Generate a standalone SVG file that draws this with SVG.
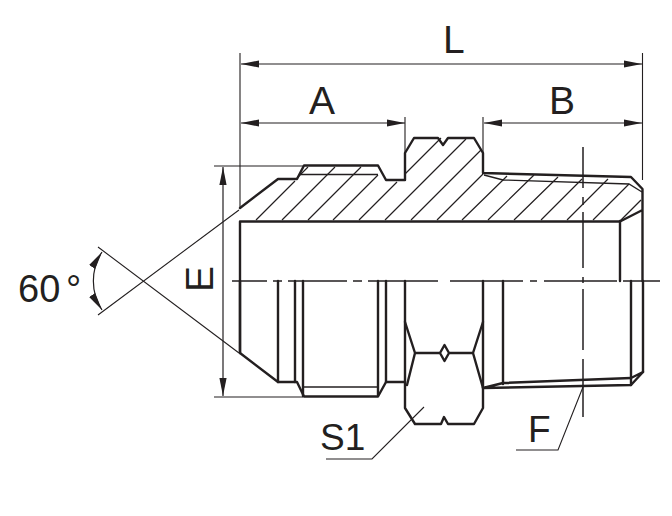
<svg xmlns="http://www.w3.org/2000/svg" width="672" height="516" viewBox="0 0 672 516">
<style>
.o{fill:none;stroke:#231f20;stroke-width:2.4;stroke-linejoin:round;stroke-linecap:round}
.t{fill:none;stroke:#231f20;stroke-width:1.3}
.h{fill:none;stroke:#231f20;stroke-width:1.2}
.d{fill:none;stroke:#231f20;stroke-width:1.1}
.da{fill:none;stroke:#231f20;stroke-width:1.2;marker-start:url(#a);marker-end:url(#a)}
.c{fill:none;stroke:#231f20;stroke-width:1.5}
text{font-family:"Liberation Sans",Arial,sans-serif;fill:#231f20;font-size:39px}
</style>
<defs>
<marker id="a" viewBox="0 0 18 8" refX="18" refY="4" markerWidth="18" markerHeight="8" markerUnits="userSpaceOnUse" orient="auto-start-reverse">
<path d="M0 0.4L18 4L0 7.6Z" fill="#231f20"/>
</marker>
</defs>
<rect width="672" height="516" fill="#fff"/>
<g id="hatch" class="h">
<path d="M256 220L295 181M282 220L335 167M308 220L361 167M333 220L378 175M359 220L397 182M405 174L441 138M385 220L466 139M411 220L481 150M437 220L483 174M462 220L503 180M503 180L507 176M488 220L534 175M514 220L558 177M541 220L582 179M567 220L608 179M593 220L629 184M297 178L308 167"/>
</g>
<g id="body">
<path class="o" d="M240 208L278 179H297L304 165.500H378L386 180H405V153L414 138H438L443 145L448 138H474L483 153V173L631 177L642.500 189V281M642.500 210L620 221.500H240V353L278 382H297L304 396.500H378L386 382H405"/>
<path class="t" d="M300 174.500H378M484 175L503 180L629 184L642 192M620 221L641 200"/>
<path class="o" d="M240 281V353M278 281V382M295 281V382M303 281V396M378 281V395M386 281V382M620 221V281M631 281V385M643 281V372M503 281V384"/>
<path class="o" d="M483 388L503 383L631 378L643 372M483 388L631 385L643 372"/>
<path class="t" d="M303 387H378"/>
</g>
<g id="hex">
<path class="o" d="M405 281V408L415 424H441L444 417L448 424H474L483 408V281"/>
<path class="o" d="M405 322L415 353L407 385M483 322L473 353L483 388M415 353H440L444.500 345L449 353L444.500 361L440 353M449 353H473"/>
</g>
<g id="centerlines" class="c">
<path d="M232 281H267M273 281H282M288 281H347M353 281H362M368 281H438M450 281H523M530 281H537M544 281H617M623 281H660"/>
<path d="M583 147V188M583 197V205M583 212V268M583 277V283M583 289V350M583 359V417"/>
</g>
<g id="connectors">
<path class="d" d="M240 53V208M642.500 53V180M405 117V154M483 117V153"/>
<path class="da" d="M241 64H642"/>
<path class="da" d="M241 123H405"/>
<path class="da" d="M484 123H642"/>
<path class="d" d="M214 166H304M214 397H303"/>
<path class="da" d="M223 167V396"/>
<path class="d" d="M239 210L98 315M239 353L98 247"/>
<path class="da" d="M102 252A53 53 0 0 0 102 310"/>
<path class="d" d="M424 407L372 459H326M583 387L558 450H516"/>
</g>
<g id="labels">
<text x="443" y="53">L</text>
<text x="309" y="114">A</text>
<text x="549" y="114">B</text>
<text x="18" y="302" style="font-size:38px">60 <tspan x="66">°</tspan></text>
<text transform="translate(213 292) rotate(-90)">E</text>
<text x="320" y="450" style="font-size:37px">S1</text>
<text x="528" y="442" style="font-size:37px">F</text>
</g>
</svg>
